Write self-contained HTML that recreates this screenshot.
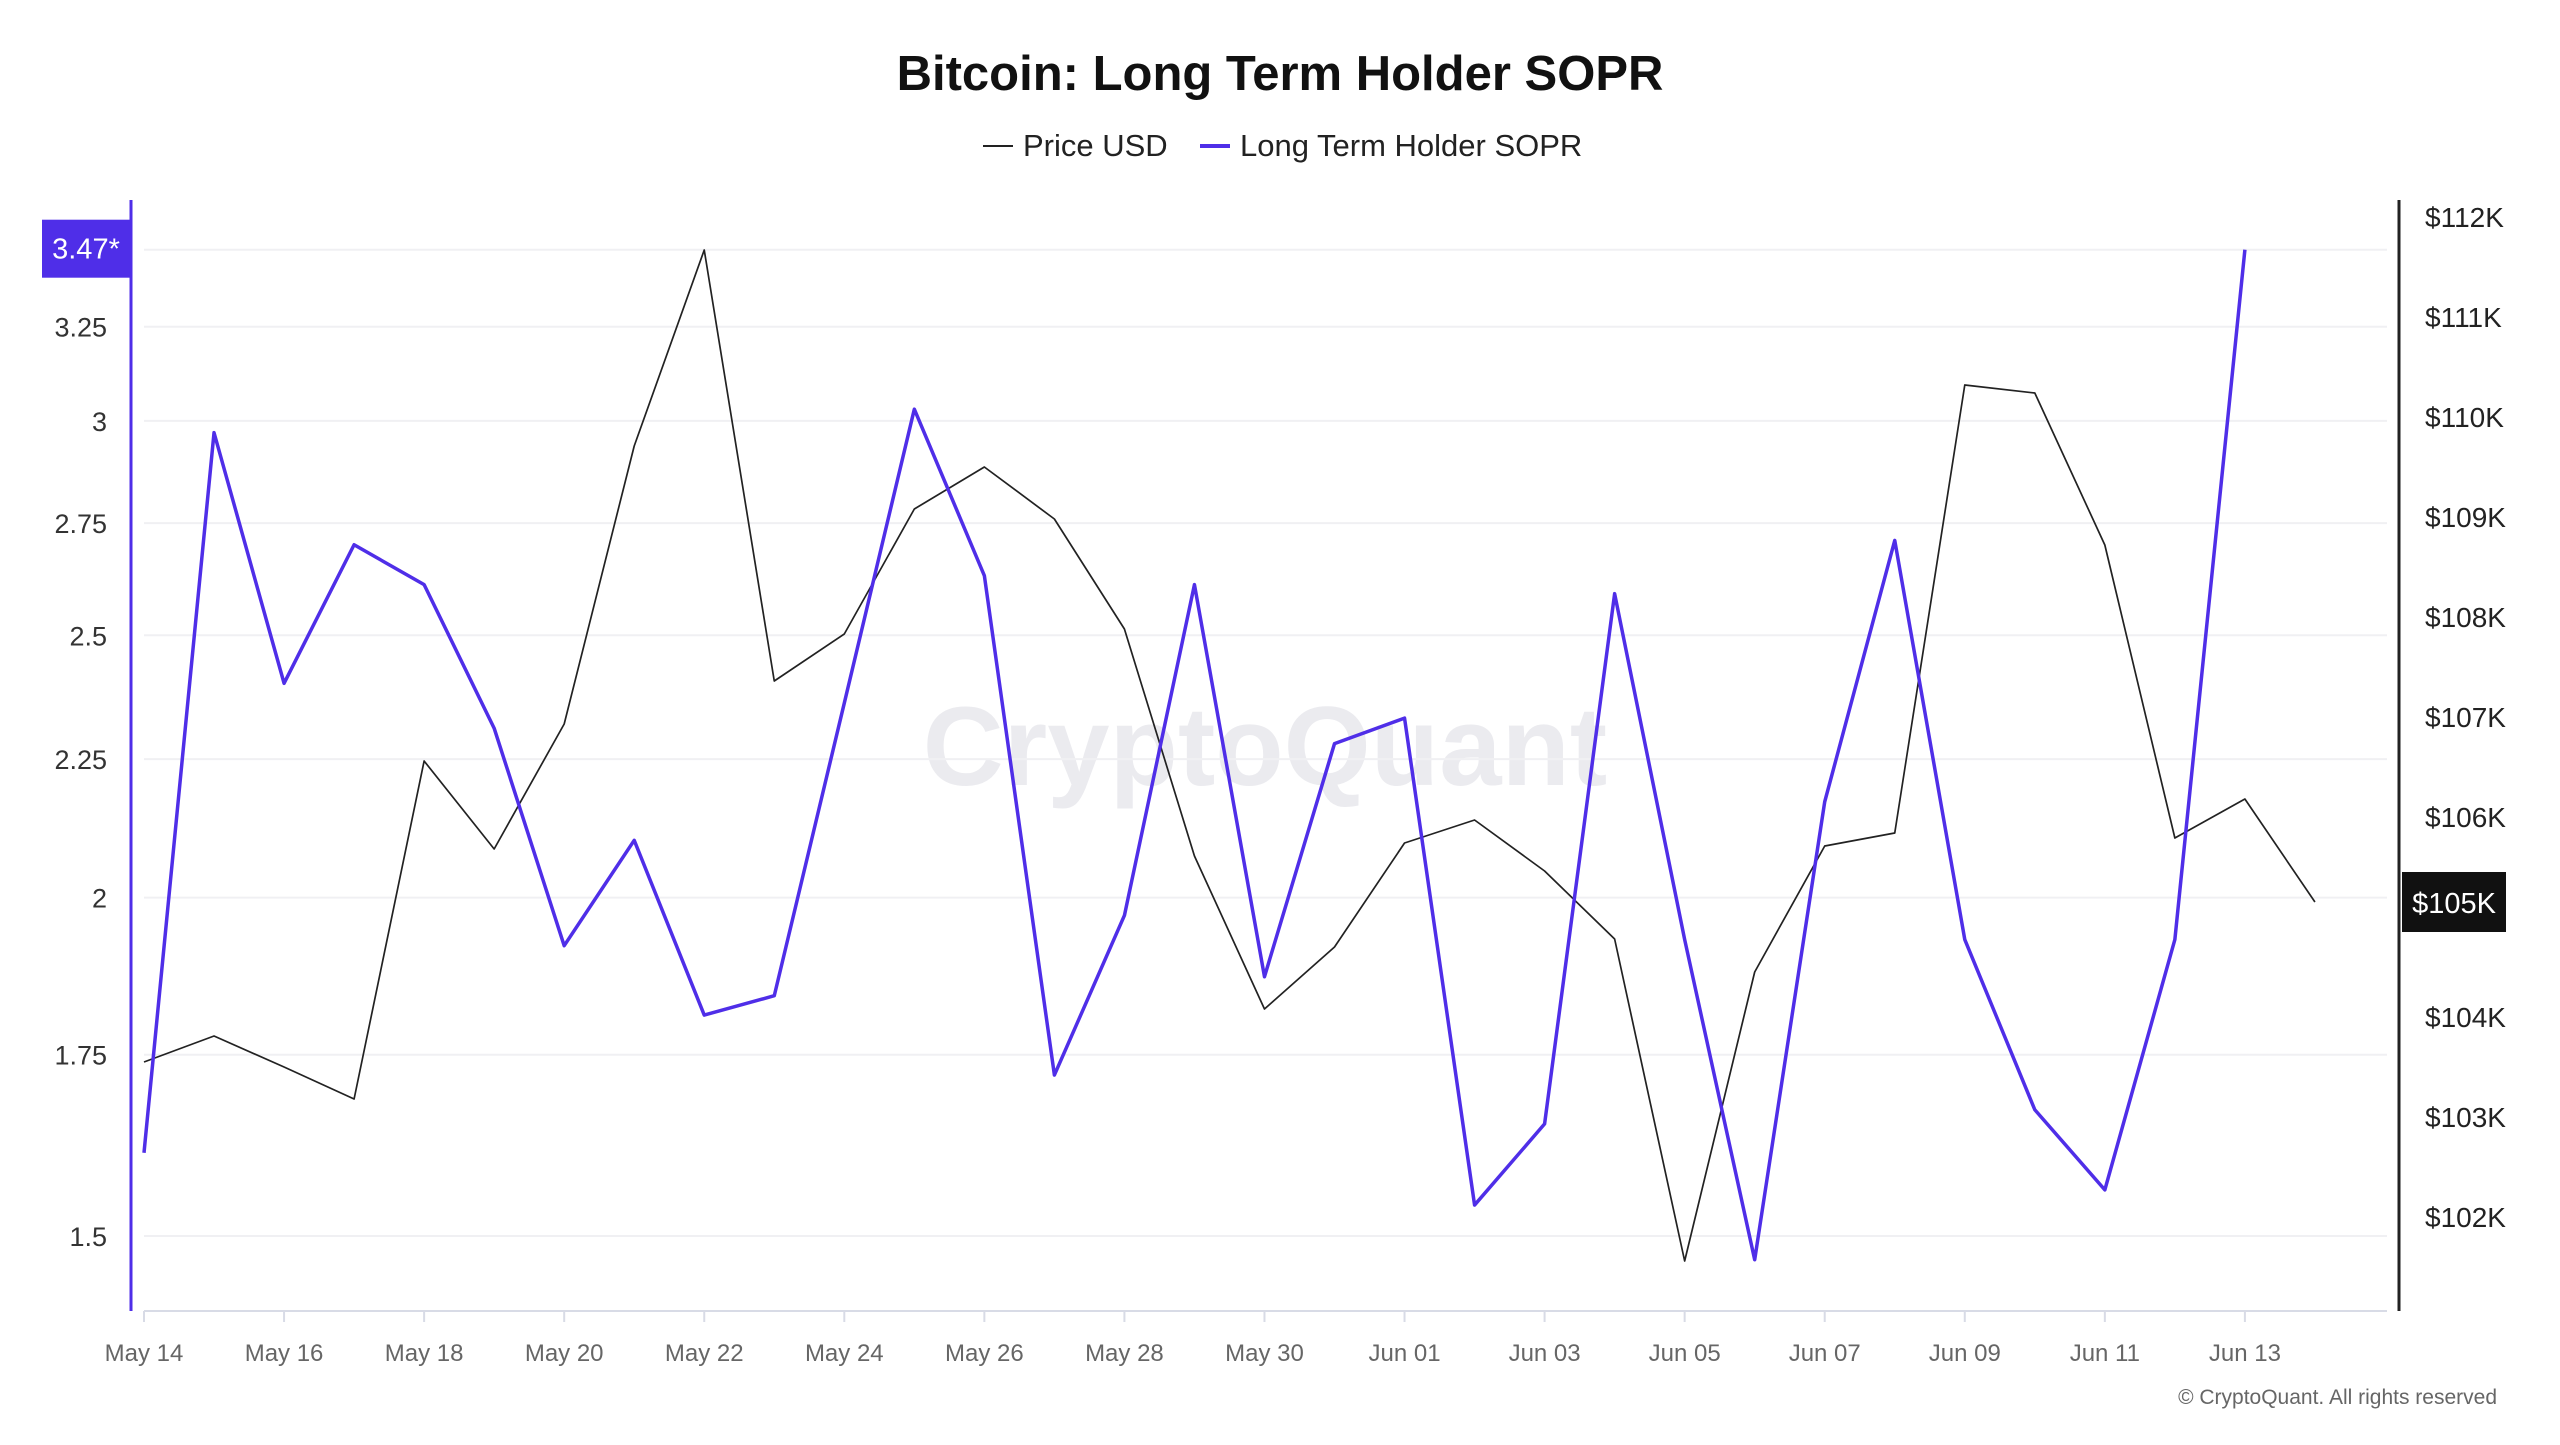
<!DOCTYPE html>
<html><head><meta charset="utf-8"><style>
html,body{margin:0;padding:0;background:#fff;}
svg text{font-family:"Liberation Sans",sans-serif;}
</style></head><body>
<svg id="chart" width="2560" height="1440" viewBox="0 0 2560 1440" xmlns="http://www.w3.org/2000/svg">
<text x="1280" y="90" text-anchor="middle" font-size="49" font-weight="bold" fill="#111">Bitcoin: Long Term Holder SOPR</text>
<g>
<g><line x1="983" y1="146" x2="1013" y2="146" stroke="#222" stroke-width="2"/><text x="1023" y="156" font-size="31" fill="#222">Price USD</text></g>
<g><line x1="1200" y1="146" x2="1230" y2="146" stroke="#4f2ee8" stroke-width="4"/><text x="1240" y="156" font-size="31" fill="#222">Long Term Holder SOPR</text></g>
</g>
<text x="1265" y="785" text-anchor="middle" font-size="112" font-weight="600" fill="#ebebef">CryptoQuant</text>
<g id="grid"></g><g id="axes"></g><g id="series"></g>
<text x="2497" y="1404" text-anchor="end" font-size="21" fill="#666">© CryptoQuant. All rights reserved</text>
</svg>
<script>
const dates=["May 14","May 15","May 16","May 17","May 18","May 19","May 20","May 21","May 22","May 23","May 24","May 25","May 26","May 27","May 28","May 29","May 30","May 31","Jun 01","Jun 02","Jun 03","Jun 04","Jun 05","Jun 06","Jun 07","Jun 08","Jun 09","Jun 10","Jun 11","Jun 12","Jun 13","Jun 14"];
const soprValues=[1.61,2.97,2.40,2.70,2.61,2.31,1.92,2.10,1.81,1.84,2.36,3.03,2.63,1.72,1.97,2.61,1.87,2.28,2.33,1.54,1.65,2.59,1.93,1.47,2.17,2.71,1.93,1.67,1.56,1.93,3.47];
const priceValues=[103.55,103.81,103.50,103.18,106.56,105.68,106.93,109.71,111.67,107.36,107.83,109.08,109.50,108.98,107.88,105.61,104.08,104.70,105.74,105.97,105.46,104.78,101.56,104.45,105.71,105.84,110.32,110.24,108.72,105.79,106.18,105.15];
const soprTicks=[1.5,1.75,2,2.25,2.5,2.75,3,3.25];
const soprTickLabels=["1.5","1.75","2","2.25","2.5","2.75","3","3.25"];
const priceTicks=[102,103,104,105,106,107,108,109,110,111,112];
const xTickIdx=[0,2,4,6,8,10,12,14,16,18,20,22,24,26,28,30];

const NS="http://www.w3.org/2000/svg";
function mk(t,a,p){const e=document.createElementNS(NS,t);for(const k in a)e.setAttribute(k,a[k]);p.appendChild(e);return e;}
const X=i=>144+i*70.03;
const YL=v=>1236-Math.log(v/1.5)*1176;
const YR=v=>1217-(v-102)*100;
const grid=document.getElementById('grid'),axes=document.getElementById('axes'),series=document.getElementById('series');

soprTicks.forEach((t,i)=>{
 const g=mk('line',{x1:144,x2:2387,y1:YL(t),y2:YL(t),stroke:'#f0f0f3','stroke-width':2},grid);
 
 
 const tx=mk('text',{x:107,y:YL(t)+10,'text-anchor':'end','font-size':27,fill:'#333'},axes);
 tx.textContent=soprTickLabels[i];
 
 
});
const topG=mk('line',{x1:144,x2:2387,y1:YL(3.47),y2:YL(3.47),stroke:'#f0f0f3','stroke-width':2},grid);


priceTicks.forEach(t=>{
 if(t===105)return;
 const tx=mk('text',{x:2425,y:YR(t)+10,'font-size':28,fill:'#222'},axes);
 tx.textContent='$'+t+'K';
 
 
});
const la=mk('line',{x1:131,x2:131,y1:200,y2:1311,stroke:'#4f2ee8','stroke-width':3},axes);


const ra=mk('line',{x1:2399,x2:2399,y1:200,y2:1311,stroke:'#222','stroke-width':3},axes);


const xa=mk('line',{x1:144,x2:2387,y1:1311,y2:1311,stroke:'#d8dbe6','stroke-width':2},axes);


xTickIdx.forEach(i=>{
 const tk=mk('line',{x1:X(i),x2:X(i),y1:1311,y2:1322,stroke:'#d8dbe6','stroke-width':2},axes);
 
 
 const tx=mk('text',{x:X(i),y:1361,'text-anchor':'middle','font-size':24,fill:'#666'},axes);
 tx.textContent=dates[i];
 
 
});
const pp=mk('polyline',{points:priceValues.map((v,i)=>X(i)+','+YR(v)).join(' '),fill:'none',stroke:'#222','stroke-width':1.7,'stroke-linejoin':'round'},series);


const sp=mk('polyline',{points:soprValues.map((v,i)=>X(i)+','+YL(v)).join(' '),fill:'none',stroke:'#4f2ee8','stroke-width':3.5,'stroke-linejoin':'round'},series);


const lastS=soprValues[soprValues.length-1];
const b1=mk('rect',{x:42,y:YL(lastS)-30,width:88,height:58,fill:'#4f2ee8'},axes);


const b1t=mk('text',{x:86,y:YL(lastS)+9,'text-anchor':'middle','font-size':29,fill:'#fff'},axes);
b1t.textContent=lastS.toFixed(2)+'*';


const lastP=priceValues[priceValues.length-1];
const b2=mk('rect',{x:2402,y:YR(lastP)-30,width:104,height:60,fill:'#111'},axes);


const b2t=mk('text',{x:2454,y:YR(lastP)+11,'text-anchor':'middle','font-size':29,fill:'#fff'},axes);
b2t.textContent='$'+Math.round(lastP)+'K';


</script>
</body></html>
